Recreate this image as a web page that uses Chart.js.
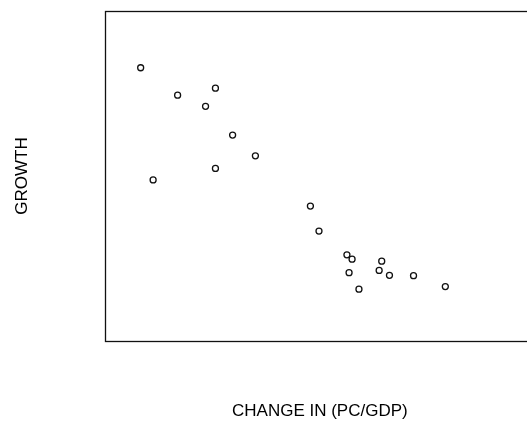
<!DOCTYPE html>
<html>
<head>
<meta charset="utf-8">
<script src="https://cdn.jsdelivr.net/npm/chart.js@4/dist/chart.umd.min.js"></script>
<style>
  html, body { margin: 0; padding: 0; background: #fff; overflow: hidden; }
  #scatter { position: absolute; left: 0; top: 0; }
</style>
</head>
<body>
<canvas id="scatter" width="540" height="422"></canvas>
<script>
// change in pc/gdp vs growth, one point per country
let pcGdpChange = [8.3, 16.9, 25.7, 23.4, 29.7, 35.0, 25.7, 11.2, 47.8, 49.8,
  56.3, 57.5, 64.4, 56.8, 63.8, 66.2, 71.8, 59.1, 79.2];
let growth = [82.8, 74.5, 76.6, 71.1, 62.4, 56.1, 52.3, 48.8, 40.9, 33.3,
  26.1, 24.8, 24.2, 20.7, 21.4, 19.9, 19.8, 15.7, 16.5];
let xTitle = "CHANGE IN (PC/GDP)";
let yTitle = "GROWTH";

let points = [];
for (let i = 0; i < pcGdpChange.length; i++) {
  points.push({ x: pcGdpChange[i], y: growth[i] });
}

// plain box round the plotting region
let boxPlugin = {
  id: "box",
  afterDraw(chart) {
    let a = chart.chartArea;
    let ctx = chart.ctx;
    ctx.save();
    ctx.strokeStyle = "#111";
    ctx.lineWidth = 1.3;
    ctx.strokeRect(Math.round(a.left) + 0.5, Math.round(a.top) + 0.5,
      Math.round(a.right - a.left), Math.round(a.bottom - a.top));
    ctx.restore();
  },
};

let titleFont = { family: "'Liberation Sans', Arial, sans-serif", size: 17 };

new Chart(document.getElementById("scatter"), {
  type: "scatter",
  data: {
    datasets: [
      {
        data: points,
        pointStyle: "circle",
        pointRadius: 3,
        pointBorderWidth: 1.3,
        pointBorderColor: "#111",
        pointBackgroundColor: "rgba(0,0,0,0)",
      },
    ],
  },
  options: {
    responsive: false,
    animation: false,
    layout: { padding: { left: 0, top: 11, right: 5, bottom: 0 } },
    plugins: {
      legend: { display: false },
      tooltip: { enabled: false },
    },
    scales: {
      x: {
        min: 0,
        max: 100,
        grid: { display: false },
        border: { display: false },
        ticks: { display: false },
        title: { display: true, text: xTitle, color: "#000", font: titleFont, padding: { top: 2, bottom: 0 } },
        afterFit: (scale) => { scale.height = 81; },
      },
      y: {
        min: 0,
        max: 100,
        grid: { display: false },
        border: { display: false },
        ticks: { display: false },
        title: { display: true, text: yTitle, color: "#000", font: titleFont, padding: { top: 12, bottom: 0 } },
        afterFit: (scale) => { scale.width = 105; },
      },
    },
  },
  plugins: [boxPlugin],
});
</script>
</body>
</html>
